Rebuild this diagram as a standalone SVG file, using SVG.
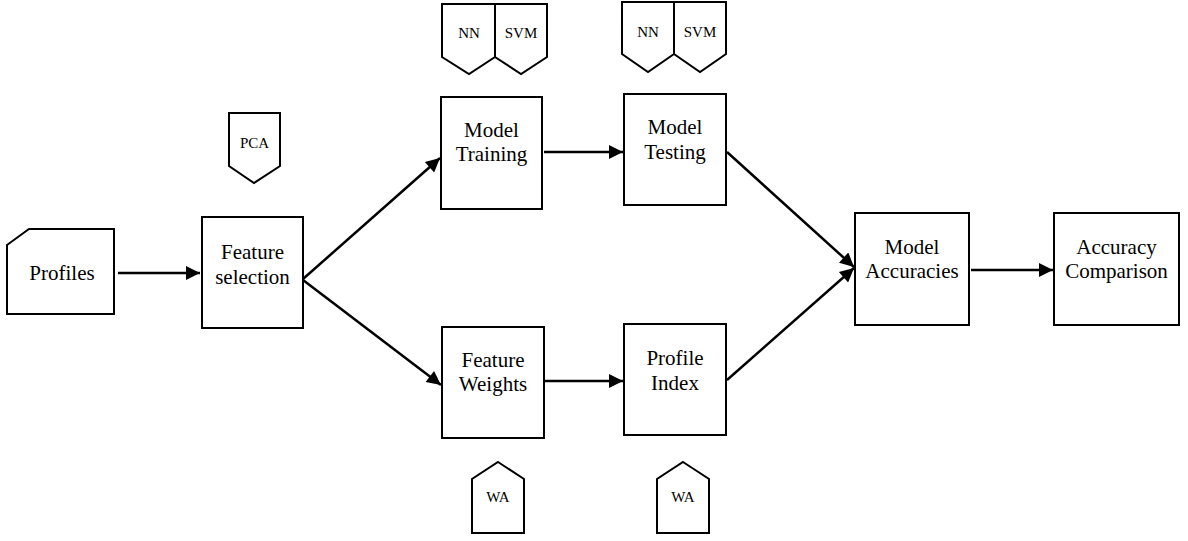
<svg xmlns="http://www.w3.org/2000/svg" width="1188" height="541" viewBox="0 0 1188 541">
<style>
.box{fill:#fff;stroke:#000;stroke-width:2}
.t{font-size:21px;text-anchor:middle;fill:#000}
.s{font-size:15px;text-anchor:middle;fill:#000}
.c{fill:none;stroke:#000;stroke-width:2.5}
</style>
<defs>
<marker id="ah" viewBox="0 0 10 10" refX="10" refY="5" markerWidth="6.4" markerHeight="5.6" markerUnits="strokeWidth" orient="auto">
<path d="M0,0 L10,5 L0,10 z" fill="#000"/>
</marker>
</defs>
<rect width="1188" height="541" fill="#fff"/>
<g id="connectors">
<line class="c" x1="118" y1="273" x2="200" y2="273" marker-end="url(#ah)"/>
<line class="c" x1="303" y1="279" x2="440" y2="158" marker-end="url(#ah)"/>
<line class="c" x1="303" y1="280" x2="441" y2="385" marker-end="url(#ah)"/>
<line class="c" x1="544" y1="152" x2="623" y2="152" marker-end="url(#ah)"/>
<line class="c" x1="545" y1="381" x2="623" y2="381" marker-end="url(#ah)"/>
<line class="c" x1="727" y1="152" x2="854" y2="267" marker-end="url(#ah)"/>
<line class="c" x1="727" y1="380" x2="854" y2="268" marker-end="url(#ah)"/>
<line class="c" x1="971" y1="270" x2="1053" y2="270" marker-end="url(#ah)"/>
</g>
<g font-family="Liberation Serif, DejaVu Serif, serif">
<g id="profiles">
<polygon class="box" points="7,245 29,229 114,229 114,314 7,314"/>
<text class="t" x="62" y="280">Profiles</text>
</g>
<g id="feature-selection">
<rect class="box" x="202" y="217" width="101" height="111"/>
<text class="t" x="252.5" y="259">Feature</text>
<text class="t" x="252.5" y="284">selection</text>
</g>
<g id="pca">
<polygon class="box" points="229,113 280,113 280,166 254,183 229,166"/>
<text class="s" x="254.5" y="148">PCA</text>
</g>
<g id="model-training">
<rect class="box" x="441" y="97" width="101" height="112"/>
<text class="t" x="491.5" y="137">Model</text>
<text class="t" x="491.5" y="161">Training</text>
</g>
<g id="badge-train">
<polygon class="box" points="442,4 495,4 495,57 469,74 442,57"/>
<polygon class="box" points="495,4 547,4 547,57 521,74 495,57"/>
<text class="s" x="469" y="38">NN</text>
<text class="s" x="521" y="38">SVM</text>
</g>
<g id="model-testing">
<rect class="box" x="624" y="94" width="102" height="111"/>
<text class="t" x="675" y="134">Model</text>
<text class="t" x="675" y="159">Testing</text>
</g>
<g id="badge-test">
<polygon class="box" points="622,2 674,2 674,54 648,72 622,54"/>
<polygon class="box" points="674,2 726,2 726,54 700,72 674,54"/>
<text class="s" x="648" y="37">NN</text>
<text class="s" x="700" y="37">SVM</text>
</g>
<g id="feature-weights">
<rect class="box" x="442" y="327" width="102" height="111"/>
<text class="t" x="493" y="367">Feature</text>
<text class="t" x="493" y="391">Weights</text>
</g>
<g id="wa1">
<polygon class="box" points="498,462 524,479 524,533 472,533 472,479"/>
<text class="s" x="498" y="502">WA</text>
</g>
<g id="profile-index">
<rect class="box" x="624" y="324" width="102" height="111"/>
<text class="t" x="675" y="365">Profile</text>
<text class="t" x="675" y="390">Index</text>
</g>
<g id="wa2">
<polygon class="box" points="683,462 709,479 709,533 657,533 657,479"/>
<text class="s" x="683" y="502">WA</text>
</g>
<g id="model-accuracies">
<rect class="box" x="855" y="213" width="114" height="112"/>
<text class="t" x="912" y="254">Model</text>
<text class="t" x="912" y="278">Accuracies</text>
</g>
<g id="accuracy-comparison">
<rect class="box" x="1054" y="213" width="125" height="112"/>
<text class="t" x="1116.5" y="254">Accuracy</text>
<text class="t" x="1116.5" y="278">Comparison</text>
</g>
</g>
</svg>
